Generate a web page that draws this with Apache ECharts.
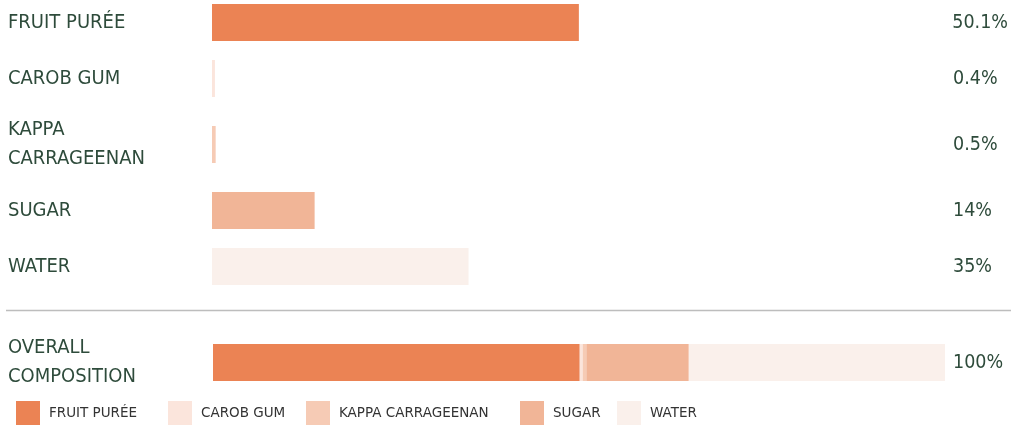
<!DOCTYPE html>
<html>
<head>
<meta charset="utf-8">
<style>html,body{margin:0;padding:0;background:#fff}#c{width:1011px;height:425px}</style>
<script src="https://cdn.jsdelivr.net/npm/echarts@6/dist/echarts.min.js"></script>
</head>
<body>
<div id="c"></div>
<script>
const categories = ['FRUIT PURÉE', 'CAROB GUM', 'KAPPA CARRAGEENAN', 'SUGAR', 'WATER'];
const rowLabels = ['FRUIT PURÉE', 'CAROB GUM', 'KAPPA\nCARRAGEENAN', 'SUGAR', 'WATER'];
const values = [50.1, 0.4, 0.5, 14, 35];
const valueLabels = ['50.1%', '0.4%', '0.5%', '14%', '35%'];
const overallLabel = 'OVERALL\nCOMPOSITION';
const overallValueLabel = '100%';
const colors = ['#EB8354', '#FBE5DC', '#F6CBB5', '#F1B597', '#FAF0EB'];

const rowTops = [4, 60, 126, 192, 248];
const overallTop = 344;
const barH = 37;
const textColor = '#2E4B3B';
const font = '"DejaVu Sans Condensed", "DejaVu Sans", sans-serif';

const grids = [], xAxes = [], yAxes = [], series = [];
function addGrid(top, left, label, valLabel) {
  const i = grids.length;
  grids.push({ left: left, right: 66, top: top, height: barH, containLabel: false });
  xAxes.push({ type: 'value', gridIndex: i, min: 0, max: 100, show: false });
  yAxes.push({
    type: 'category', gridIndex: i, data: [label],
    axisLine: { show: false }, axisTick: { show: false },
    axisLabel: { align: 'left', margin: left - 8, fontSize: 20, lineHeight: 29, color: textColor, fontFamily: font }
  });
  yAxes.push({
    type: 'category', gridIndex: i, position: 'right', data: [valLabel],
    axisLine: { show: false }, axisTick: { show: false },
    axisLabel: { margin: 8, fontSize: 19.5, color: textColor, fontFamily: font, hideOverlap: false }
  });
  return i;
}

categories.forEach((c, k) => {
  const gi = addGrid(rowTops[k], 212, rowLabels[k], valueLabels[k]);
  series.push({
    type: 'bar', name: c, xAxisIndex: gi, yAxisIndex: gi * 2,
    data: [values[k]], barWidth: '100%', itemStyle: { color: colors[k] }, silent: true
  });
});

const go = addGrid(overallTop, 213, overallLabel, overallValueLabel);
categories.forEach((c, k) => {
  series.push({
    type: 'bar', name: c, stack: 'overall', xAxisIndex: go, yAxisIndex: go * 2,
    data: [values[k]], barWidth: '100%', itemStyle: { color: colors[k] }, silent: true
  });
});

const legendLefts = [16, 168, 306, 520, 617];
const legends = categories.map((c, k) => ({
  data: [c], left: legendLefts[k], top: 401, padding: 0,
  itemWidth: 24, itemHeight: 24, icon: 'rect', selectedMode: false,
  textStyle: { fontSize: 13.5, color: '#333', fontFamily: '"DejaVu Sans", sans-serif', padding: [0, 0, 0, 4] }
}));

const chart = echarts.init(document.getElementById('c'), null, { renderer: 'canvas' });
chart.setOption({
  animation: false,
  grid: grids, xAxis: xAxes, yAxis: yAxes, series: series,
  legend: legends,
  graphic: [{
    type: 'line', shape: { x1: 6, y1: 310.5, x2: 1011, y2: 310.5 },
    style: { stroke: '#BDBDBD', lineWidth: 1.5 }, silent: true
  }]
});
</script>
</body>
</html>
